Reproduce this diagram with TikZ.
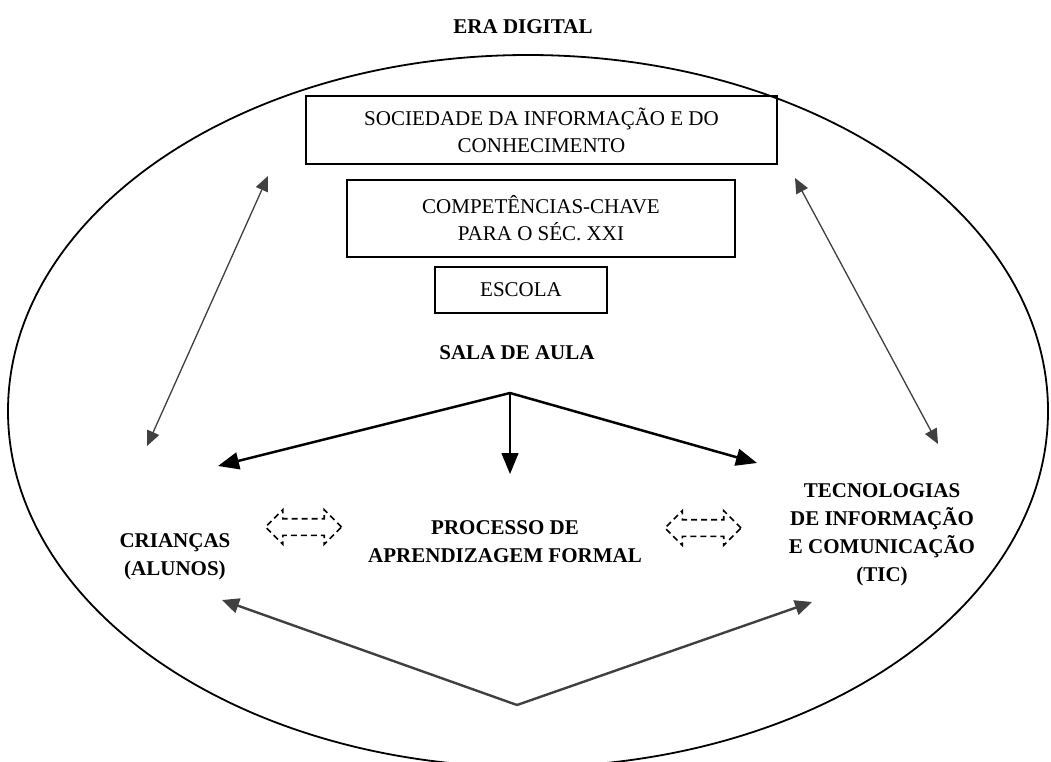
\documentclass[tikz,border=0pt]{standalone}
\usepackage{fontspec}
\setmainfont{Liberation Serif}
\usetikzlibrary{arrows.meta,shapes.arrows}

\begin{document}
\begin{tikzpicture}[x=1pt,y=-1pt,
  txt/.style={font=\fontsize{21}{27}\selectfont, align=center, inner sep=0pt},
  negrito/.style={font=\fontsize{21}{28}\selectfont\bfseries, align=center, inner sep=0pt},
  caixa/.style={draw, line width=1.4pt, txt},
  seta/.style={-{Triangle[length=21pt,width=17pt]}, line width=2.5pt},
  setafina/.style={-{Triangle[length=21pt,width=17pt]}, line width=1.4pt},
  cinza/.style={{Triangle[length=15pt,width=13pt]}-{Triangle[length=15pt,width=13pt]}, line width=1.3pt, draw=cinzaesc, fill=cinzaesc},
  cinzagrossa/.style={-{Triangle[length=17pt,width=15pt]}, line width=2.4pt, draw=cinzaesc, fill=cinzaesc},
  troca/.style={double arrow, draw, dash pattern=on 6pt off 4pt, line width=1.7pt,
    minimum height=76pt, inner xsep=0pt, inner ysep=7.5pt, double arrow head extend=9pt}
]
\definecolor{cinzaesc}{HTML}{404040}
\useasboundingbox (0,0) rectangle (1051,762);

\draw[line width=1.8pt] (528,411) ellipse [x radius=520, y radius=356];

\node[negrito] (era) at (523,27) {ERA DIGITAL};
\node[caixa, minimum width=471pt, minimum height=68pt] (sociedade) at (541.5,130) {SOCIEDADE DA INFORMAÇÃO E DO\\CONHECIMENTO};
\node[caixa, minimum width=388pt, minimum height=77pt] (competencias) at (541,218.5) {COMPETÊNCIAS-CHAVE\\PARA O SÉC. XXI};
\node[caixa, minimum width=172pt, minimum height=46pt] (escola) at (521,290) {ESCOLA};
\node[negrito] (sala) at (517,353) {SALA DE AULA};

\node[negrito] (criancas) at (175,557) {CRIANÇAS\\(ALUNOS)};
\node[negrito] (processo) at (505,542) {PROCESSO DE\\APRENDIZAGEM FORMAL};
\node[negrito] (tic) at (882,535) {TECNOLOGIAS\\DE INFORMAÇÃO\\E COMUNICAÇÃO\\(TIC)};

\node[troca] (troca1) at (303.5,527) {};
\node[troca] (troca2) at (703,528) {};

\coordinate (juncao) at (510,393);
\coordinate (criancas-topo) at (218,466);
\coordinate (processo-topo) at (510,474);
\coordinate (tic-topo) at (757,463);
\draw[seta] (juncao) -- (criancas-topo);
\draw[setafina] (juncao) -- (processo-topo);
\draw[seta] (juncao) -- (tic-topo);

\coordinate (criancas-sup) at (147,446);
\coordinate (sociedade-esq) at (268,176);
\coordinate (tic-sup) at (938,444);
\coordinate (sociedade-dir) at (795,178);
\draw[cinza] (criancas-sup) -- (sociedade-esq);
\draw[cinza] (tic-sup) -- (sociedade-dir);

\coordinate (base) at (517,705);
\coordinate (criancas-inf) at (222,600);
\coordinate (tic-inf) at (812,602);
\draw[cinzagrossa] (base) -- (criancas-inf);
\draw[cinzagrossa] (base) -- (tic-inf);
\end{tikzpicture}
\end{document}
